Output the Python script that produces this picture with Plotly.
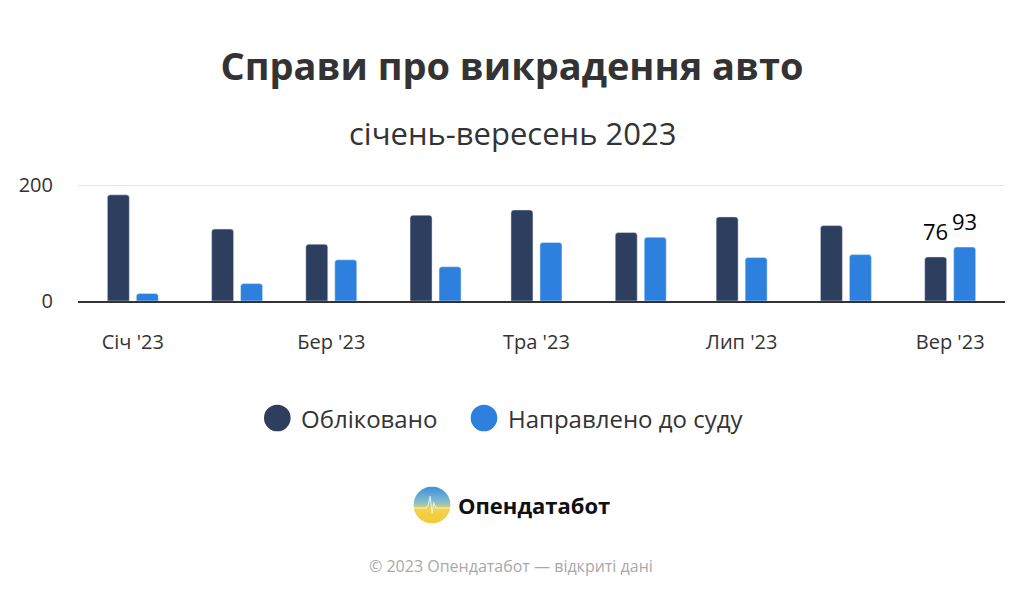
import base64
import plotly.graph_objects as go

# ---- data ----
months = ["2023-01-01", "2023-02-01", "2023-03-01", "2023-04-01", "2023-05-01",
          "2023-06-01", "2023-07-01", "2023-08-01", "2023-09-01"]
registered = [183, 124, 98, 148, 157, 118, 145, 130, 76]
to_court = [13, 30, 71, 59, 101, 110, 75, 80, 93]
series_names = ["Обліковано", "Направлено до суду"]
series_colors = ["#2d3e5f", "#2d80dd"]
tick_months = ["2023-01-01", "2023-03-01", "2023-05-01", "2023-07-01", "2023-09-01"]
tick_labels = ["Січ '23", "Бер '23", "Тра '23", "Лип '23", "Вер '23"]
title = "Справи про викрадення авто"
subtitle = "січень-вересень 2023"
brand = "Опендатабот"
footer = "© 2023 Опендатабот — відкриті дані"

# the page body has an 8px margin, so the figure sits at (8, 8) in the window
OFF = 8
W, H = 1008, 581
ML = 78 - OFF
MT = 182 - OFF
PLOT_R = 1005 - OFF
PLOT_B = 301 - OFF
MR = W - PLOT_R
MB = H - PLOT_B
PW, PH = W - ML - MR, H - MT - MB
FONT = "Open Sans"

def px_x(x):
    return (x - OFF - ML) / PW

def px_y(y):
    return (H - MB - (y - OFF)) / PH

DAY = 86400000
bar_w = 6.54 * DAY
gap = 1.04 * DAY

fig = go.Figure()
fig.add_trace(go.Bar(x=months, y=registered, name=series_names[0],
                     marker_color=series_colors[0], width=bar_w,
                     offset=-(bar_w + gap), showlegend=False))
fig.add_trace(go.Bar(x=months, y=to_court, name=series_names[1],
                     marker_color=series_colors[1], width=bar_w,
                     offset=gap, showlegend=False))

annotations = []
# data labels for last month
for vals, sign in ((registered, -1), (to_court, 1)):
    annotations.append(dict(x=months[-1], y=vals[-1], xref="x", yref="y",
                            text=str(vals[-1]), showarrow=False,
                            xshift=sign * 14.5, yshift=26, yanchor="middle",
                            font=dict(family=FONT, size=22, color="#000000")))

# subtitle
annotations.append(dict(x=px_x(512), y=px_y(133), xref="paper", yref="paper",
                        text=subtitle, showarrow=False, xanchor="center", yanchor="middle",
                        font=dict(family=FONT, size=31, color="#333333")))

# custom legend with round markers
legend_items = [(277.3, 299), (484, 506)]
shapes = []
for (cx, tx), name, col in zip(legend_items, series_names, series_colors):
    r = 13.3
    cy = 418
    shapes.append(dict(type="circle", xref="paper", yref="paper",
                       x0=px_x(cx - r), x1=px_x(cx + r), y0=px_y(cy + r), y1=px_y(cy - r),
                       fillcolor=col, line=dict(width=0)))
    annotations.append(dict(x=px_x(tx), y=px_y(cy), xref="paper", yref="paper",
                            text=name, showarrow=False, xanchor="left", yanchor="middle",
                            font=dict(family=FONT, size=24, color="#333333")))

# brand
annotations.append(dict(x=px_x(456), y=px_y(505), xref="paper", yref="paper",
                        text="<b>" + brand + "</b>", showarrow=False, xanchor="left",
                        yanchor="middle", font=dict(family=FONT, size=22, color="#111111")))
# footer
annotations.append(dict(x=px_x(511), y=px_y(566), xref="paper", yref="paper",
                        text=footer, showarrow=False, xanchor="center", yanchor="middle",
                        font=dict(family=FONT, size=16, color="#a8a8a8")))

logo_svg = """<svg xmlns='http://www.w3.org/2000/svg' width='100' height='100' viewBox='0 0 100 100'>
<defs><linearGradient id='g' x1='0' y1='0' x2='0' y2='1'>
<stop offset='0' stop-color='#3a8fe0'/><stop offset='0.45' stop-color='#8cc0c8'/>
<stop offset='0.6' stop-color='#f2d24a'/><stop offset='1' stop-color='#f5c93a'/></linearGradient></defs>
<circle cx='50' cy='50' r='50' fill='url(#g)'/>
<polyline points='0,58 34,58 40,50 45,26 50,72 55,44 60,58 100,58' fill='none' stroke='#ffffff' stroke-opacity='0.75' stroke-width='3'/>
</svg>"""
logo_uri = "data:image/svg+xml;base64," + base64.b64encode(logo_svg.encode()).decode()

fig.update_layout(
    width=W, height=H,
    margin=dict(l=ML, r=MR, t=MT, b=MB),
    paper_bgcolor="white", plot_bgcolor="white",
    barmode="overlay", barcornerradius=3,
    title=dict(text="<b>" + title + "</b>", x=(512 - OFF) / W, xanchor="center",
               y=1 - (67 - OFF) / H, yref="container", yanchor="middle",
               font=dict(family=FONT, size=38, color="#333333")),
    font=dict(family=FONT, color="#333333"),
    annotations=annotations,
    shapes=shapes,
    images=[dict(source=logo_uri, xref="paper", yref="paper",
                 x=px_x(432 - 18.5), y=px_y(505 - 18.5),
                 sizex=37 / PW, sizey=37 / PH, xanchor="left", yanchor="top",
                 sizing="stretch", layer="above")],
    xaxis=dict(type="date", range=["2022-12-15 16:48", "2023-09-17 07:12"],
               tickvals=tick_months, ticktext=tick_labels,
               showgrid=False, showline=True, linecolor="#333333", linewidth=2,
               ticks="", ticklabelstandoff=22,
               tickfont=dict(family=FONT, size=20, color="#333333")),
    yaxis=dict(range=[0, PH / 0.58], tickvals=[0, 200], showgrid=True,
               gridcolor="#e6e6e6", gridwidth=1, zeroline=False, showline=False,
               ticks="", ticklabelstandoff=24,
               tickfont=dict(family=FONT, size=20, color="#333333")),
)

fig.write_html("out.html")
